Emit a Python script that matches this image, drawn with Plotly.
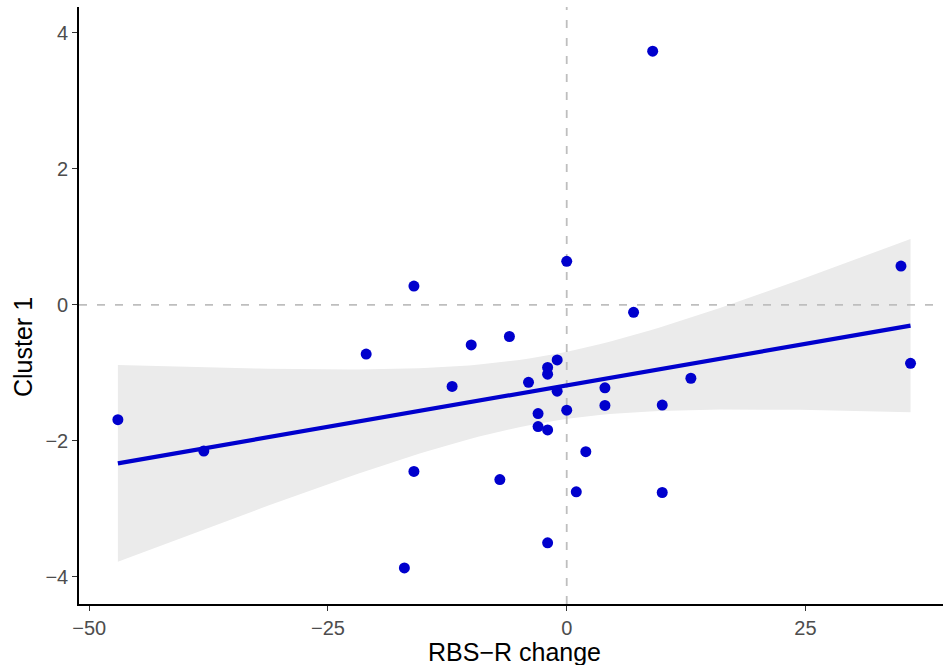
import numpy as np
import plotly.graph_objects as go

# ---- data ----
rbs_r_change = [-47, -38, -16, 0, 7, 9, 35, -21, -10, -6, -1, -2, -2, -4, -12, -1,
                4, 4, 0, -3, -3, -2, 2, -16, -7, 1, -2, -17, 13, 10, 10, 36]
cluster_1 = [-1.69, -2.15, 0.275, 0.64, -0.11, 3.73, 0.57, -0.725, -0.59, -0.466, -0.81,
             -0.92, -1.02, -1.14, -1.20, -1.27, -1.22, -1.48, -1.55, -1.60, -1.79, -1.84,
             -2.16, -2.45, -2.57, -2.75, -3.50, -3.87, -1.08, -1.475, -2.76, -0.86]

x_tick_vals = [-50, -25, 0, 25]
x_tick_text = ["\u221250", "\u221225", "0", "25"]
y_tick_vals = [-4, -2, 0, 2, 4]
y_tick_text = ["\u22124", "\u22122", "0", "2", "4"]

x_title = "RBS\u2212R change"
y_title = "Cluster 1"

X_RANGE = [-51.07, 39.4]
Y_RANGE = [-4.40, 4.38]
T_CRIT = 2.042  # t(0.975, df=30)

# ---- linear fit with 95% confidence band (like geom_smooth(method="lm")) ----
x = np.array(rbs_r_change, dtype=float)
y = np.array(cluster_1, dtype=float)
n = len(x)
slope, intercept = np.polyfit(x, y, 1)
resid = y - (intercept + slope * x)
s = np.sqrt(np.sum(resid ** 2) / (n - 2))
xg = np.linspace(x.min(), x.max(), 80)
yg = intercept + slope * xg
se = s * np.sqrt(1.0 / n + (xg - x.mean()) ** 2 / np.sum((x - x.mean()) ** 2))
upper = yg + T_CRIT * se
lower = yg - T_CRIT * se

BLUE = "#0000CD"
FONT = "Liberation Sans, Arial, sans-serif"
fig = go.Figure()

fig.add_trace(go.Scatter(
    x=np.concatenate([xg, xg[::-1]]), y=np.concatenate([upper, lower[::-1]]),
    fill="toself", fillcolor="#EBEBEB", line=dict(width=0), mode="lines",
    hoverinfo="skip", showlegend=False))

# reference lines at zero
fig.add_trace(go.Scatter(x=X_RANGE, y=[0, 0], mode="lines",
                         line=dict(color="#BEBEBE", width=1.8, dash="8px,10px"),
                         hoverinfo="skip", showlegend=False))
fig.add_trace(go.Scatter(x=[0, 0], y=Y_RANGE, mode="lines",
                         line=dict(color="#BEBEBE", width=1.8, dash="8px,10px"),
                         hoverinfo="skip", showlegend=False))

fig.add_trace(go.Scatter(x=xg, y=yg, mode="lines",
                         line=dict(color=BLUE, width=4.2), showlegend=False))

fig.add_trace(go.Scatter(x=rbs_r_change, y=cluster_1, mode="markers",
                         marker=dict(color=BLUE, size=11, line=dict(width=0)),
                         showlegend=False))

axis_common = dict(
    showgrid=False, zeroline=False, showline=True, linecolor="black", linewidth=1.6,
    ticks="outside", ticklen=5, tickwidth=1.2, tickcolor="#333333", automargin=False,
    tickfont=dict(family=FONT, size=20, color="#4D4D4D"),
)

W, H = 943, 665
ML, MR, MT, MB = 79, 0, 7, 61
PW, PH = W - ML - MR, H - MT - MB

fig.update_layout(
    width=W, height=H,
    margin=dict(l=ML, r=MR, t=MT, b=MB),
    paper_bgcolor="white", plot_bgcolor="white",
    xaxis=dict(range=X_RANGE, tickmode="array", tickvals=x_tick_vals, ticktext=x_tick_text,
               **axis_common),
    yaxis=dict(range=Y_RANGE, tickmode="array", tickvals=y_tick_vals, ticktext=y_tick_text,
               **axis_common),
    annotations=[
        dict(text=x_title, xref="paper", yref="paper", x=(514 - ML) / PW,
             y=-(652 - (MT + PH)) / PH, xanchor="center", yanchor="middle",
             showarrow=False, font=dict(family=FONT, size=25, color="black")),
        dict(text=y_title, xref="paper", yref="paper", x=(23 - ML) / PW,
             y=(MT + PH - 347) / PH, xanchor="center", yanchor="middle", textangle=-90,
             showarrow=False, font=dict(family=FONT, size=25, color="black")),
    ],
)

fig.write_html("out.html", config={"displayModeBar": False},
               post_script="document.body.style.margin='0';document.body.style.overflow='hidden';")
